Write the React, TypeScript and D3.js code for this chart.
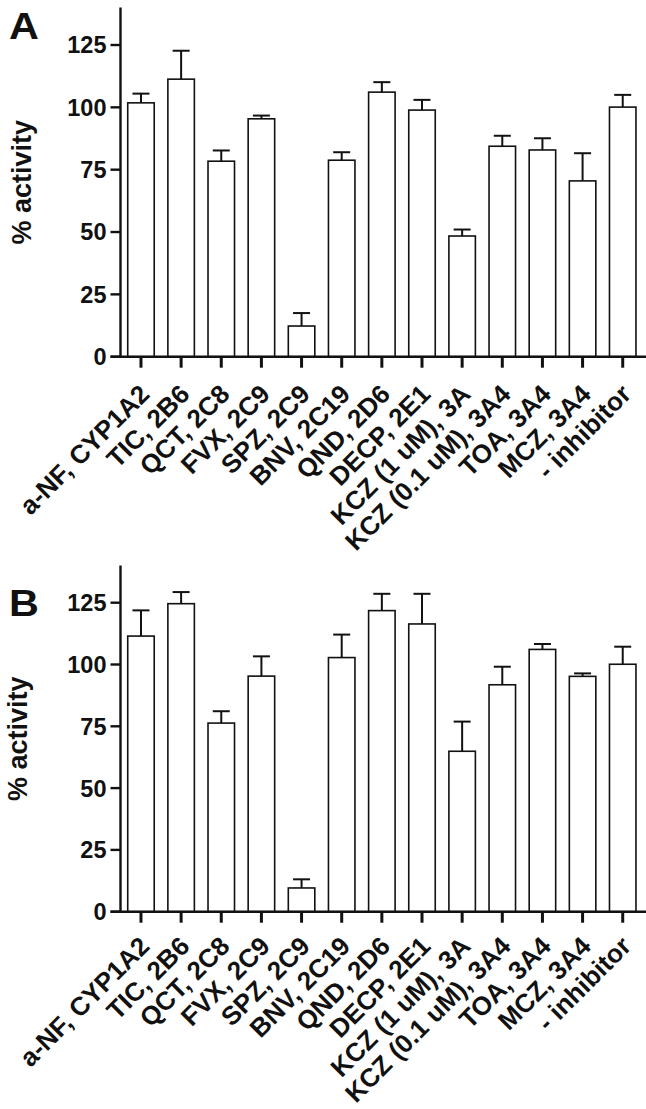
import React from "react";
import * as d3 from "d3";

const categories = [
  "a-NF, CYP1A2",
  "TIC, 2B6",
  "QCT, 2C8",
  "FVX, 2C9",
  "SPZ, 2C9",
  "BNV, 2C19",
  "QND, 2D6",
  "DECP, 2E1",
  "KCZ (1 uM), 3A",
  "KCZ (0.1 uM), 3A4",
  "TOA, 3A4",
  "MCZ, 3A4",
  "- inhibitor",
];

const meanA = [101.8, 111.3, 78.4, 95.4, 12.3, 78.8, 106.1, 98.9, 48.4, 84.4, 82.9, 70.5, 100.1];
const errA = [3.7, 11.4, 4.3, 1.3, 5.2, 3.2, 4.0, 4.1, 2.6, 4.2, 4.7, 11.1, 4.9];

const meanB = [111.5, 124.6, 76.3, 95.3, 9.6, 102.8, 121.8, 116.4, 64.9, 91.8, 106.1, 95.2, 100.1];
const errB = [10.4, 4.7, 4.8, 8.0, 3.5, 9.3, 6.8, 12.2, 12.0, 7.3, 2.2, 1.2, 7.1];

const yTicks = [0, 25, 50, 75, 100, 125];

const FONT = "'Liberation Sans', Arial, Helvetica, sans-serif";

type PanelProps = {
  letter: string;
  means: number[];
  errs: number[];
  y0: number;
  y125: number;
  titleX: number;
  letterY: number;
  labelDy: number;
};

function Panel({ letter, means, errs, y0, y125, titleX, letterY, labelDy }: PanelProps) {
  const x = d3
    .scaleBand<string>()
    .domain(categories)
    .range([120.9, 642.8])
    .paddingInner(0.34)
    .paddingOuter(0.17);
  const pxPerUnit = (y0 - y125) / 125;
  const y = d3
    .scaleLinear()
    .domain([0, 140])
    .range([y0, y0 - 140 * pxPerUnit]);
  const axisX = 120.5;
  const bw = x.bandwidth();
  const capW = 17;
  const yTop = y(140);

  return (
    <g>
      <text
        transform={`translate(9,${letterY}) scale(1.12,1)`}
        fontFamily={FONT}
        fontWeight="bold"
        fontSize={37}
        fill="#111"
      >
        {letter}
      </text>
      <text
        transform={`translate(${titleX},${(yTop + y0) / 2}) rotate(-90)`}
        textAnchor="middle"
        fontFamily={FONT}
        fontWeight="bold"
        fontSize={27}
        fill="#111"
      >
        % activity
      </text>
      {categories.map((c, i) => {
        const bx = x(c) as number;
        const top = y(means[i]);
        return (
          <rect
            key={"b" + i}
            x={bx}
            y={top}
            width={bw}
            height={y0 - top}
            fill="#fff"
            stroke="#111"
            strokeWidth={1.6}
          />
        );
      })}
      {categories.map((c, i) => {
        const cx = (x(c) as number) + bw / 2;
        const top = y(means[i]);
        const et = y(means[i] + errs[i]);
        return (
          <g key={"e" + i} stroke="#111" strokeWidth={2}>
            <line x1={cx} x2={cx} y1={top} y2={et} />
            <line x1={cx - capW / 2} x2={cx + capW / 2} y1={et} y2={et} />
          </g>
        );
      })}
      <line x1={axisX} x2={axisX} y1={yTop} y2={y0 + 1} stroke="#111" strokeWidth={2.4} />
      {yTicks.map((t) => (
        <g key={"yt" + t}>
          <line x1={axisX - 10} x2={axisX} y1={y(t)} y2={y(t)} stroke="#111" strokeWidth={2.4} />
          <text
            x={axisX - 14}
            y={y(t)}
            dy="0.36em"
            textAnchor="end"
            fontFamily={FONT}
            fontWeight="bold"
            fontSize={23.5}
            fill="#111"
          >
            {t}
          </text>
        </g>
      ))}
      <line x1={axisX - 10} x2={646} y1={y0} y2={y0} stroke="#111" strokeWidth={2.4} />
      {categories.map((c, i) => {
        const cx = (x(c) as number) + bw / 2;
        return (
          <g key={"xt" + i}>
            <line x1={cx} x2={cx} y1={y0} y2={y0 + 11} stroke="#111" strokeWidth={3} />
            <text
              transform={`translate(${cx + 10},${y0 + labelDy}) rotate(-45)`}
              textAnchor="end"
              fontFamily={FONT}
              fontWeight="bold"
              fontSize={26}
              fill="#111"
            >
              {c}
            </text>
          </g>
        );
      })}
    </g>
  );
}

export default function App() {
  return (
    <svg
      width={646}
      height={1109}
      style={{ position: "absolute", left: 0, top: 0, background: "#fff" }}
    >
      <rect width={646} height={1109} fill="#fff" />
      <Panel letter="A" means={meanA} errs={errA} y0={356.7} y125={45} titleX={31} letterY={39} labelDy={39} />
      <Panel letter="B" means={meanB} errs={errB} y0={911.7} y125={602.7} titleX={27} letterY={616} labelDy={36} />
    </svg>
  );
}
